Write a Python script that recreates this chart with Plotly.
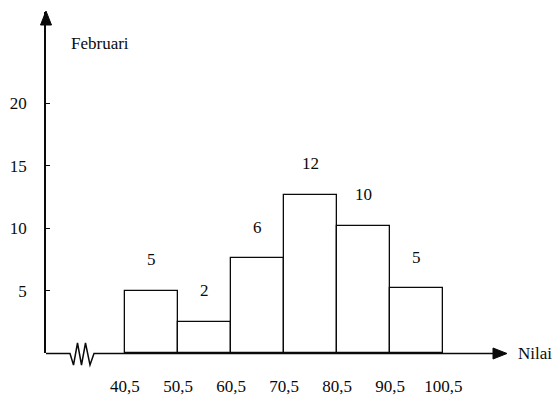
import plotly.graph_objects as go

# ---- data ----
class_edges = [40.5, 50.5, 60.5, 70.5, 80.5, 90.5, 100.5]
edge_labels = ["40,5", "50,5", "60,5", "70,5", "80,5", "90,5", "100,5"]
bar_heights = [5.0, 2.5, 7.6, 12.7, 10.2, 5.2]   # heights as drawn
freq_labels = ["5", "2", "6", "12", "10", "5"]   # frequencies printed above bars
y_tick_vals = [5, 10, 15, 20]
y_tick_text = ["5", "10", "15", "20"]
y_title = "Februari"
x_title = "Nilai"

# ---- layout constants ----
W, H = 559, 397
L, R, T, B = 46, 53, 12, 44
PW, PH = W - L - R, H - T - B
XR = [25.61, 25.61 + PW / 5.305]
YR = [0, PH / 12.48]
FONT = "Liberation Serif"
FS = 17
INK = "#0a0a0a"


def pap_x(p):
    return (p - L) / PW


def pap_y(p):
    return (H - B - p) / PH


def ppath(pts, close=False):
    s = "M " + " L ".join(f"{pap_x(a)},{pap_y(b)}" for a, b in pts)
    return s + (" Z" if close else "")


centers = [(a + b) / 2 for a, b in zip(class_edges[:-1], class_edges[1:])]
widths = [b - a for a, b in zip(class_edges[:-1], class_edges[1:])]

fig = go.Figure()
fig.add_trace(go.Bar(
    x=centers, y=bar_heights, width=widths,
    marker=dict(color="white", line=dict(color=INK, width=1.3)),
    hoverinfo="skip", showlegend=False,
))

shapes = []
# x baseline with zigzag break
zig = [(46, 353.5), (70, 353.5), (73.5, 365), (77.5, 343), (81.5, 365),
       (85.5, 343), (90, 365), (94, 353.5), (494, 353.5)]
shapes.append(dict(type="path", path=ppath(zig), xref="paper", yref="paper",
                   line=dict(color=INK, width=1.5)))
# x arrow head
ah = [(493, 348), (507, 353.5), (493, 359)]
shapes.append(dict(type="path", path=ppath(ah, True), xref="paper", yref="paper",
                   fillcolor=INK, line=dict(color=INK, width=1)))
# y arrow head
yh = [(40.5, 25), (46, 11), (51.5, 25)]
shapes.append(dict(type="path", path=ppath(yh, True), xref="paper", yref="paper",
                   fillcolor=INK, line=dict(color=INK, width=1)))

annotations = []
for c, h, t in zip(centers, bar_heights, freq_labels):
    annotations.append(dict(x=c, y=h, text=t, showarrow=False, yshift=31,
                            xanchor="center", yanchor="middle",
                            font=dict(family=FONT, size=FS, color=INK)))
annotations.append(dict(x=pap_x(69), y=pap_y(43), xref="paper", yref="paper",
                        text=y_title, showarrow=False,
                        xanchor="left", yanchor="middle",
                        font=dict(family=FONT, size=FS, color=INK)))
annotations.append(dict(x=pap_x(516), y=pap_y(353), xref="paper", yref="paper",
                        text=x_title, showarrow=False,
                        xanchor="left", yanchor="middle",
                        font=dict(family=FONT, size=FS, color=INK)))

fig.update_layout(
    width=W, height=H,
    margin=dict(l=L, r=R, t=T, b=B, autoexpand=False),
    paper_bgcolor="white", plot_bgcolor="white",
    font=dict(family=FONT, size=FS, color=INK),
    bargap=0,
    shapes=shapes,
    annotations=annotations,
    xaxis=dict(range=XR, showgrid=False, zeroline=False, showline=False,
               tickmode="array", tickvals=class_edges, ticktext=edge_labels,
               ticks="", ticklabelstandoff=21, fixedrange=True),
    yaxis=dict(range=YR, showgrid=False, zeroline=False, showline=True,
               linecolor=INK, linewidth=1.5,
               tickmode="array", tickvals=y_tick_vals, ticktext=y_tick_text,
               ticks="inside", ticklen=4, tickwidth=1.2, tickcolor=INK,
               ticklabelstandoff=14, fixedrange=True),
)

fig.write_html("out.html", config=dict(displayModeBar=False),
               post_script="document.body.style.margin='0';")
